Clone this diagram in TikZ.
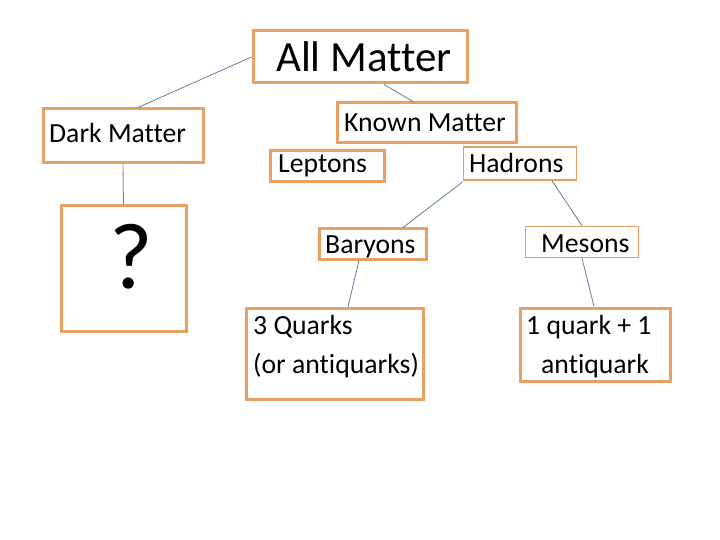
\documentclass[tikz,border=0pt]{standalone}
\usepackage{fontspec}
\setmainfont{Carlito}[Ligatures=NoCommon, RawFeature={-liga}]
\usetikzlibrary{calc}
\definecolor{boxor}{HTML}{E9A063}
\definecolor{linkc}{HTML}{5F7F9F}
\tikzset{
  box/.style={draw=boxor, line width=3pt, inner sep=0pt, fill=white},
  thinbox/.style={draw=boxor, line width=1.6pt, inner sep=0pt, fill=white},
  txt/.style={anchor=base west, inner sep=0pt, font=\fontsize{27.7}{33}\selectfont},
  link/.style={draw=linkc, line width=0.8pt}
}
\begin{document}
\begin{tikzpicture}[x=1pt,y=-1pt]
\useasboundingbox (0,0) rectangle (720,540);
% boxes
\node[box, minimum width=214pt, minimum height=52pt] (allm) at (360,57) {};
\node[box, minimum width=160pt, minimum height=54pt] (dark) at (123,136) {};
\node[box, minimum width=125pt, minimum height=125pt] (qbox) at (123.5,268.5) {};
\node[box, minimum width=179pt, minimum height=40pt] (known) at (426.5,123) {};
\node[box, minimum width=114pt, minimum height=31pt] (lept) at (327,166.5) {};
\node[thinbox, minimum width=113pt, minimum height=33pt] (hadr) at (520,163.5) {};
\node[box, minimum width=107pt, minimum height=30pt] (bary) at (372.5,244) {};
\node[thinbox, minimum width=113pt, minimum height=31pt] (mes) at (582,242) {};
\node[box, line width=3.5pt, minimum width=177pt, minimum height=91pt] (q3) at (335,354) {};
\node[box, minimum width=150pt, minimum height=73pt] (q1) at (595,344.5) {};
% texts
\node[txt, font=\fontsize{43}{50}\selectfont] (tallm) at (276,72) {All Matter};
\node[txt] (tdark) at (49,143) {Dark Matter};
\node[txt, font=\fontsize{94}{100}\selectfont] (tq) at (109,288) {?};
\node[txt] (tknown) at (344,132) {Known Matter};
\node[txt] (tlept) at (278,173) {Leptons};
\node[txt] (thadr) at (469,173) {Hadrons};
\node[txt] (tbary) at (325,253) {Baryons};
\node[txt] (tmes) at (541,252) {Mesons};
\node[txt] (tq3a) at (253,334) {3 Quarks};
\node[txt] (tq3b) at (253,373) {(or antiquarks)};
\node[txt] (tq1a) at (526,334) {1 quark + 1};
\node[txt] (tq1b) at (541,373) {antiquark};
% connectors
\draw[link] (allm.west) -- ($(dark.north)+(15,0)$);
\draw[link] ($(allm.south)+(24,0)$) -- ($(known.north)+(-13.5,0)$);
\draw[link] (dark.south) -- (qbox.north);
\draw[link] ($(hadr.south west)+(0,1)$) -- ($(bary.north)+(30.5,0)$);
\draw[link] ($(hadr.south)+(32,0)$) -- (mes.north);
\draw[link] ($(bary.south)+(-13.5,0)$) -- ($(q3.north)+(13,0)$);
\draw[link] (mes.south) -- ($(q1.north)+(-1,0)$);
\end{tikzpicture}
\end{document}
